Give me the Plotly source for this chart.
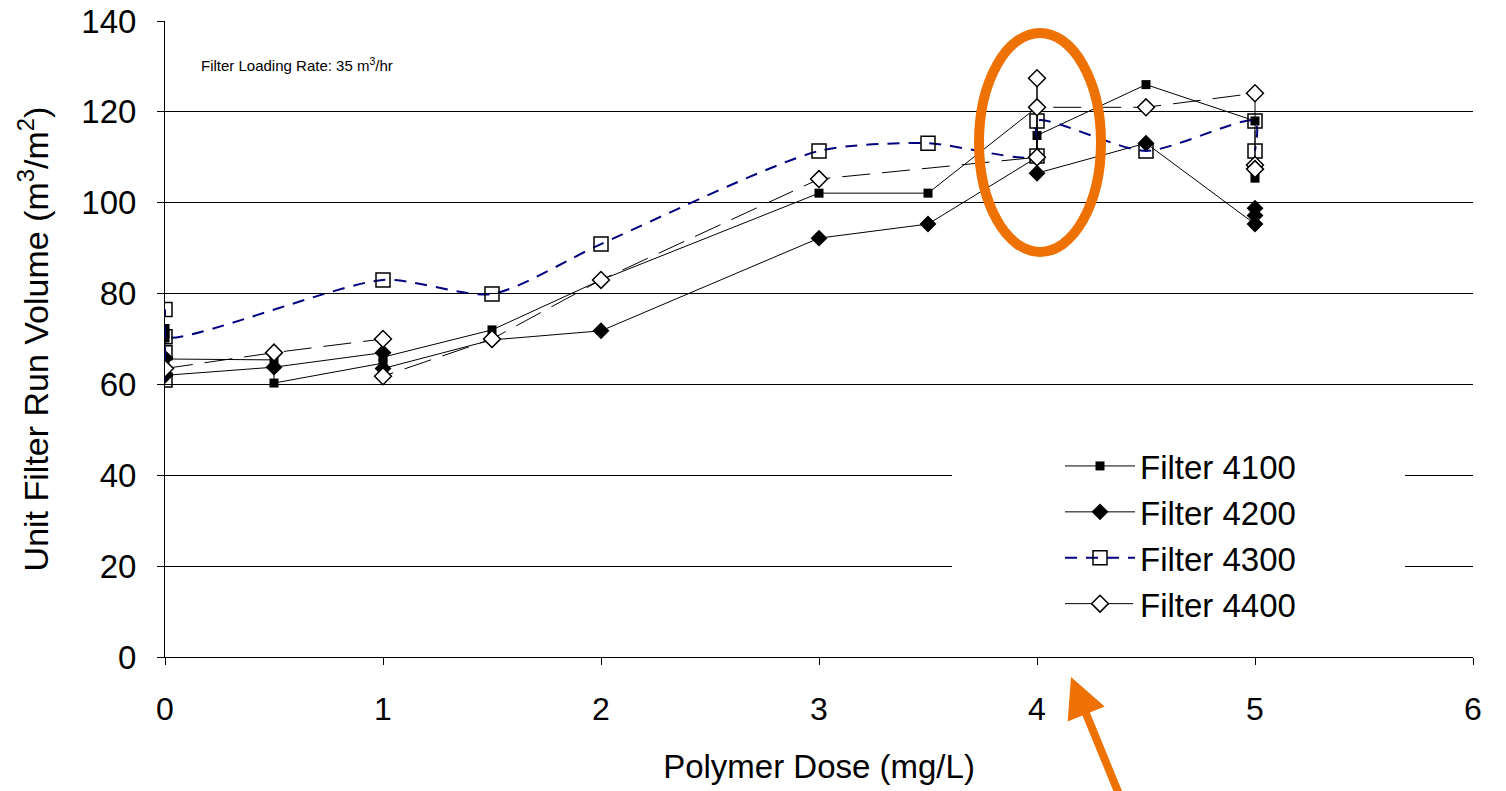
import plotly.graph_objects as go

# ---- data ----
x_4100 = [0, 0, 0, 0, 0.5, 0.5, 1, 1, 1.5, 2, 3, 3.5, 4, 4, 4, 4.5, 5, 5]
y_4100 = [72.3, 71.2, 70.2, 65.6, 65.4, 60.3, 64.7, 66.0, 72.0, 83.0, 102.1, 102.1, 121.0, 110.0, 114.8, 126.0, 118.0, 105.4]

x_4200 = [0, 0, 0.5, 1, 1, 1.5, 2, 3, 3.5, 4, 4, 4, 4.5, 5, 5, 5]
y_4200 = [65.8, 62.0, 63.8, 67.0, 63.5, 69.8, 71.8, 92.2, 95.3, 110.0, 121.0, 106.5, 113.1, 95.3, 97.2, 98.8]

x_4300 = [0, 0, 0, 0, 1, 1.5, 2, 3, 3.5, 4, 4, 4.5, 5, 5]
y_4300 = [61.0, 67.0, 76.5, 70.5, 83.0, 79.9, 90.9, 111.4, 113.1, 110.3, 118.0, 111.4, 118.0, 111.4]

x_4400 = [0, 0.5, 1, 1, 1.5, 2, 3, 4, 4, 4, 4.5, 5, 5, 5]
y_4400 = [63.5, 67.0, 70.0, 61.8, 70.0, 83.0, 105.2, 110.0, 127.4, 121.0, 121.0, 124.1, 108.3, 107.4]

FONT = "Liberation Sans, Arial, sans-serif"

OFF = 8  # page body margin
W, H = 1506, 791
# plot area in screen pixels
SX0, SX1, SY0, SY1 = 165, 1473, 21, 657
L, T = SX0 - OFF, SY0 - OFF
R = W - (SX1 - OFF)
B = H - (SY1 - OFF)
PW, PH = SX1 - SX0, SY1 - SY0


def px(xs):
    return (xs - SX0) / PW


def py(ys):
    return (SY1 - ys) / PH


fig = go.Figure()
fig.add_trace(go.Scatter(x=x_4100, y=y_4100, mode="lines+markers", name="Filter 4100",
                         legendgroup="a",
                         line=dict(color="black", width=1),
                         marker=dict(symbol="square", size=9, color="black")))
fig.add_trace(go.Scatter(x=x_4200, y=y_4200, mode="lines+markers", name="Filter 4200",
                         legendgroup="b",
                         line=dict(color="black", width=1),
                         marker=dict(symbol="diamond", size=13, color="black")))
fig.add_trace(go.Scatter(x=x_4300, y=y_4300, mode="lines+markers", name="Filter 4300",
                         legendgroup="c",
                         line=dict(color="#000080", width=2, dash="12px,9px", shape="spline",
                                   smoothing=0.7),
                         marker=dict(symbol="square-open", size=14, color="black",
                                     line=dict(width=1.5))))
fig.add_trace(go.Scatter(x=x_4400, y=y_4400, mode="lines+markers", name="Filter 4400",
                         legendgroup="d",
                         line=dict(color="black", width=1, dash="28px,12px"),
                         marker=dict(symbol="diamond", size=13, color="white",
                                     line=dict(color="black", width=1.5))))

fig.update_layout(
    width=W, height=H,
    margin=dict(l=L, r=R, t=T, b=B, autoexpand=False),
    paper_bgcolor="white", plot_bgcolor="white",
    font=dict(family=FONT, size=30, color="black"),
    showlegend=True,
    legend=dict(x=px(1060), y=py(438), xanchor="left", yanchor="top",
                bgcolor="rgba(0,0,0,0)", font=dict(size=33), tracegroupgap=0,
                itemwidth=70),
    xaxis=dict(range=[0, 6], dtick=1, showgrid=False, zeroline=False, automargin=False,
               showline=True, linecolor="black", linewidth=1,
               ticks="outside", ticklen=7, tickcolor="black",
               tickfont=dict(size=32), ticklabelstandoff=17, ticklabeloverflow="allow",
               title=dict(text="Polymer Dose (mg/L)", font=dict(size=33), standoff=28)),
    yaxis=dict(range=[0, 140], dtick=20, showgrid=True, gridcolor="black", gridwidth=1,
               zeroline=False, showline=True, linecolor="black", linewidth=1, automargin=False,
               ticks="outside", ticklen=7, tickcolor="black",
               tickfont=dict(size=33), ticklabelstandoff=14, ticklabeloverflow="allow",
               title=dict(text="Unit Filter Run Volume (m<sup>3</sup>/m<sup>2</sup>)",
                          font=dict(size=34), standoff=22)),
    shapes=[
        dict(type="rect", xref="paper", yref="paper", x0=px(952), x1=px(1405),
             y0=py(640), y1=py(440), fillcolor="white", line=dict(width=0),
             layer="above"),
        dict(type="circle", xref="paper", yref="paper", x0=px(979), x1=px(1101),
             y0=py(252), y1=py(33),
             line=dict(color="#EE7203", width=10), layer="above"),
    ],
    annotations=[
        dict(text="Filter Loading Rate: 35 m<sup>3</sup>/hr", xref="paper", yref="paper",
             x=px(199), y=py(65), xanchor="left", yanchor="middle",
             showarrow=False, font=dict(size=15)),
        dict(text="", xref="paper", yref="paper", x=px(1071), y=py(677),
             ax=50, ay=122, axref="pixel", ayref="pixel",
             showarrow=True, arrowhead=2, arrowsize=1, arrowwidth=8, arrowcolor="#EE7203"),
    ],
)

fig.write_html("out.html")
